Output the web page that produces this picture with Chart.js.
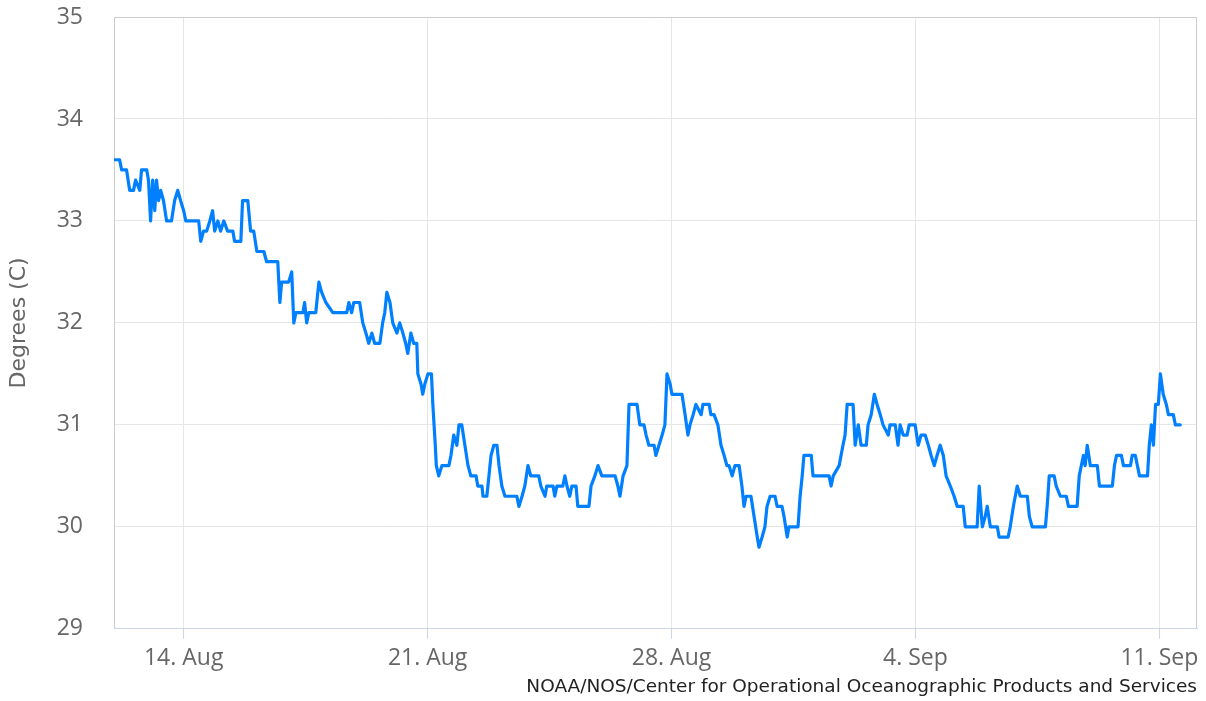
<!DOCTYPE html>
<html>
<head>
<meta charset="utf-8">
<script src="https://cdn.jsdelivr.net/npm/chart.js@4.4.1/dist/chart.umd.min.js"></script>
<style>
  html, body { margin: 0; padding: 0; background: #fff; }
</style>
</head>
<body>
<canvas id="tempChart" width="1206" height="701"></canvas>
<script>
// water temperature, time in days since 12 Aug 00:00
const dayOffsets = [
  0, 0.16, 0.22, 0.36, 0.45, 0.56, 0.62, 0.74, 0.79, 0.94, 0.99, 1.05, 1.11, 1.17, 1.22, 1.28, 1.34, 1.42, 1.51, 1.65,
  1.74, 1.83, 1.91, 2.00, 2.06, 2.43, 2.49, 2.57, 2.66, 2.75, 2.83, 2.89, 2.98, 3.06, 3.15, 3.26, 3.41, 3.46, 3.64, 3.69,
  3.84, 3.92, 4.01, 4.10, 4.30, 4.38, 4.70, 4.76, 4.81, 5.01, 5.10, 5.16, 5.22, 5.42, 5.47, 5.53, 5.59, 5.79, 5.88, 5.96,
  6.08, 6.28, 6.68, 6.74, 6.82, 6.88, 7.05, 7.14, 7.23, 7.31, 7.40, 7.48, 7.63, 7.71, 7.77, 7.83, 7.92, 8.00, 8.12, 8.20,
  8.29, 8.37, 8.43, 8.52, 8.60, 8.69, 8.72, 8.81, 8.86, 8.92, 9.01, 9.11, 9.15, 9.22, 9.25, 9.32, 9.41, 9.61, 9.67, 9.75,
  9.84, 9.90, 9.98, 10.07, 10.16, 10.24, 10.39, 10.44, 10.56, 10.59, 10.70, 10.76, 10.82, 10.90, 10.99, 11.05, 11.13, 11.22, 11.56, 11.62,
  11.71, 11.79, 11.88, 11.96, 12.19, 12.25, 12.37, 12.42, 12.60, 12.65, 12.71, 12.88, 12.94, 13.00, 13.08, 13.14, 13.26, 13.31, 13.63, 13.69,
  13.80, 13.89, 14.00, 14.38, 14.46, 14.52, 14.61, 14.72, 14.78, 15.01, 15.09, 15.21, 15.27, 15.35, 15.50, 15.55, 15.64, 15.73, 15.81, 15.87,
  15.96, 16.01, 16.10, 16.30, 16.39, 16.47, 16.53, 16.62, 16.70, 16.85, 16.90, 17.08, 17.13, 17.22, 17.33, 17.42, 17.51, 17.59, 17.65, 17.74,
  17.82, 17.94, 18.02, 18.08, 18.14, 18.28, 18.37, 18.46, 18.51, 18.60, 18.68, 18.74, 18.83, 18.97, 19.03, 19.17, 19.23, 19.32, 19.37, 19.63,
  19.69, 19.75, 19.80, 20.01, 20.06, 20.52, 20.58, 20.64, 20.81, 20.92, 20.98, 21.04, 21.21, 21.27, 21.36, 21.44, 21.59, 21.64, 21.73, 21.82,
  21.90, 21.99, 22.07, 22.22, 22.27, 22.42, 22.50, 22.56, 22.65, 22.76, 22.82, 22.99, 23.08, 23.16, 23.28, 23.37, 23.45, 23.54, 23.62, 23.71,
  23.80, 23.88, 24.00, 24.11, 24.20, 24.37, 24.43, 24.77, 24.83, 24.92, 25.00, 25.06, 25.15, 25.35, 25.40, 25.66, 25.72, 25.81, 25.92, 26.01,
  26.21, 26.27, 26.35, 26.73, 26.78, 26.84, 26.98, 27.04, 27.16, 27.33, 27.39, 27.64, 27.70, 27.82, 27.87, 27.93, 28.02, 28.22, 28.28, 28.65,
  28.71, 28.77, 28.91, 28.97, 29.17, 29.22, 29.31, 29.37, 29.43, 29.66, 29.71, 29.77, 29.83, 29.89, 29.97, 30.03, 30.11, 30.20, 30.26, 30.40,
  30.46, 30.60
];

const waterTemp = [
  33.6, 33.6, 33.5, 33.5, 33.3, 33.3, 33.4, 33.3, 33.5, 33.5, 33.4, 33.0, 33.4, 33.1, 33.4, 33.2, 33.3, 33.2, 33.0, 33.0,
  33.2, 33.3, 33.2, 33.1, 33.0, 33.0, 32.8, 32.9, 32.9, 33.0, 33.1, 32.9, 33.0, 32.9, 33.0, 32.9, 32.9, 32.8, 32.8, 33.2,
  33.2, 32.9, 32.9, 32.7, 32.7, 32.6, 32.6, 32.2, 32.4, 32.4, 32.5, 32.0, 32.1, 32.1, 32.2, 32.0, 32.1, 32.1, 32.4, 32.3,
  32.2, 32.1, 32.1, 32.2, 32.1, 32.2, 32.2, 32.0, 31.9, 31.8, 31.9, 31.8, 31.8, 32.0, 32.1, 32.3, 32.2, 32.0, 31.9, 32.0,
  31.9, 31.8, 31.7, 31.9, 31.8, 31.8, 31.5, 31.4, 31.3, 31.4, 31.5, 31.5, 31.2, 30.8, 30.6, 30.5, 30.6, 30.6, 30.7, 30.9,
  30.8, 31.0, 31.0, 30.8, 30.6, 30.5, 30.5, 30.4, 30.4, 30.3, 30.3, 30.5, 30.7, 30.8, 30.8, 30.6, 30.4, 30.3, 30.3, 30.2,
  30.3, 30.4, 30.6, 30.5, 30.5, 30.4, 30.3, 30.4, 30.4, 30.3, 30.4, 30.4, 30.5, 30.4, 30.3, 30.4, 30.4, 30.2, 30.2, 30.4,
  30.5, 30.6, 30.5, 30.5, 30.4, 30.3, 30.5, 30.6, 31.2, 31.2, 31.0, 31.0, 30.9, 30.8, 30.8, 30.7, 30.8, 30.9, 31.0, 31.5,
  31.4, 31.3, 31.3, 31.3, 31.1, 30.9, 31.0, 31.1, 31.2, 31.1, 31.2, 31.2, 31.1, 31.1, 31.0, 30.8, 30.7, 30.6, 30.6, 30.5,
  30.6, 30.6, 30.4, 30.2, 30.3, 30.3, 30.1, 29.9, 29.8, 29.9, 30.0, 30.2, 30.3, 30.3, 30.2, 30.2, 30.1, 29.9, 30.0, 30.0,
  30.3, 30.5, 30.7, 30.7, 30.5, 30.5, 30.4, 30.5, 30.6, 30.8, 30.9, 31.2, 31.2, 30.8, 31.0, 30.8, 30.8, 31.0, 31.1, 31.3,
  31.2, 31.1, 31.0, 30.9, 31.0, 31.0, 30.8, 31.0, 30.9, 30.9, 31.0, 31.0, 30.8, 30.9, 30.9, 30.8, 30.7, 30.6, 30.7, 30.8,
  30.7, 30.5, 30.4, 30.3, 30.2, 30.2, 30.0, 30.0, 30.4, 30.0, 30.1, 30.2, 30.0, 30.0, 29.9, 29.9, 30.0, 30.2, 30.4, 30.3,
  30.3, 30.1, 30.0, 30.0, 30.2, 30.5, 30.5, 30.4, 30.3, 30.3, 30.2, 30.2, 30.5, 30.7, 30.6, 30.8, 30.6, 30.6, 30.4, 30.4,
  30.6, 30.7, 30.7, 30.6, 30.6, 30.7, 30.7, 30.6, 30.5, 30.5, 30.8, 31.0, 30.8, 31.2, 31.2, 31.5, 31.3, 31.2, 31.1, 31.1,
  31.0, 31.0
];

const tickDays = [2, 9, 16, 23, 30];
const tickLabels = ['14. Aug', '21. Aug', '28. Aug', '4. Sep', '11. Sep'];
const creditText = 'NOAA/NOS/Center for Operational Oceanographic Products and Services';

const labelFont = { family: 'Open Sans', size: 23 };

// light frame around the plot (bottom edge is the x axis line)
const plotFrame = {
  id: 'plotFrame',
  beforeDatasetsDraw(chart) {
    const { ctx, chartArea: a } = chart;
    ctx.save();
    ctx.strokeStyle = '#cccccc';
    ctx.lineWidth = 1;
    ctx.beginPath();
    ctx.moveTo(a.left + 0.5, a.bottom);
    ctx.lineTo(a.left + 0.5, a.top + 0.5);
    ctx.lineTo(a.right - 0.5, a.top + 0.5);
    ctx.lineTo(a.right - 0.5, a.bottom);
    ctx.stroke();
    ctx.restore();
  }
};

new Chart(document.getElementById('tempChart'), {
  type: 'line',
  data: {
    datasets: [{
      data: dayOffsets.map((d, i) => ({ x: d, y: waterTemp[i] })),
      borderColor: '#0080ff',
      borderWidth: 3.2,
      borderJoinStyle: 'round',
      borderCapStyle: 'round',
      pointRadius: 0,
      tension: 0,
      fill: false
    }]
  },
  options: {
    responsive: false,
    animation: false,
    layout: { padding: { top: 17, right: 9, bottom: 0, left: 0 } },
    scales: {
      x: {
        type: 'linear',
        min: 0,
        max: 31.08,
        afterBuildTicks: (scale) => { scale.ticks = tickDays.map(v => ({ value: v })); },
        afterFit: (scale) => {
          scale.height = 47;
          scale.paddingLeft = 0;
          scale.paddingRight = 0;
        },
        ticks: {
          callback: (v, i) => tickLabels[i],
          color: '#666666',
          font: labelFont,
          padding: 6,
          maxRotation: 0,
          autoSkip: false
        },
        grid: { color: '#e6e6e6', tickColor: '#ccd6eb', tickLength: 10 },
        border: { color: '#ccd6eb' }
      },
      y: {
        min: 29,
        max: 35,
        afterFit: (scale) => {
          scale.width = 114;
          scale.paddingTop = 0;
          scale.paddingBottom = 0;
        },
        ticks: { stepSize: 1, color: '#666666', font: labelFont, padding: 31 },
        grid: { color: '#e6e6e6', drawTicks: false },
        border: { display: false },
        title: {
          display: true,
          text: 'Degrees (C)',
          color: '#666666',
          font: { family: 'DejaVu Sans', size: 22 },
          padding: { top: 6, bottom: 0 }
        }
      }
    },
    plugins: {
      legend: { display: false },
      tooltip: { enabled: false },
      subtitle: {
        display: true,
        text: creditText,
        position: 'bottom',
        align: 'end',
        color: '#222222',
        font: { family: 'DejaVu Sans', size: 18.5, weight: 'normal' },
        padding: { top: 0, bottom: 3 }
      }
    }
  },
  plugins: [plotFrame]
});
</script>
</body>
</html>
